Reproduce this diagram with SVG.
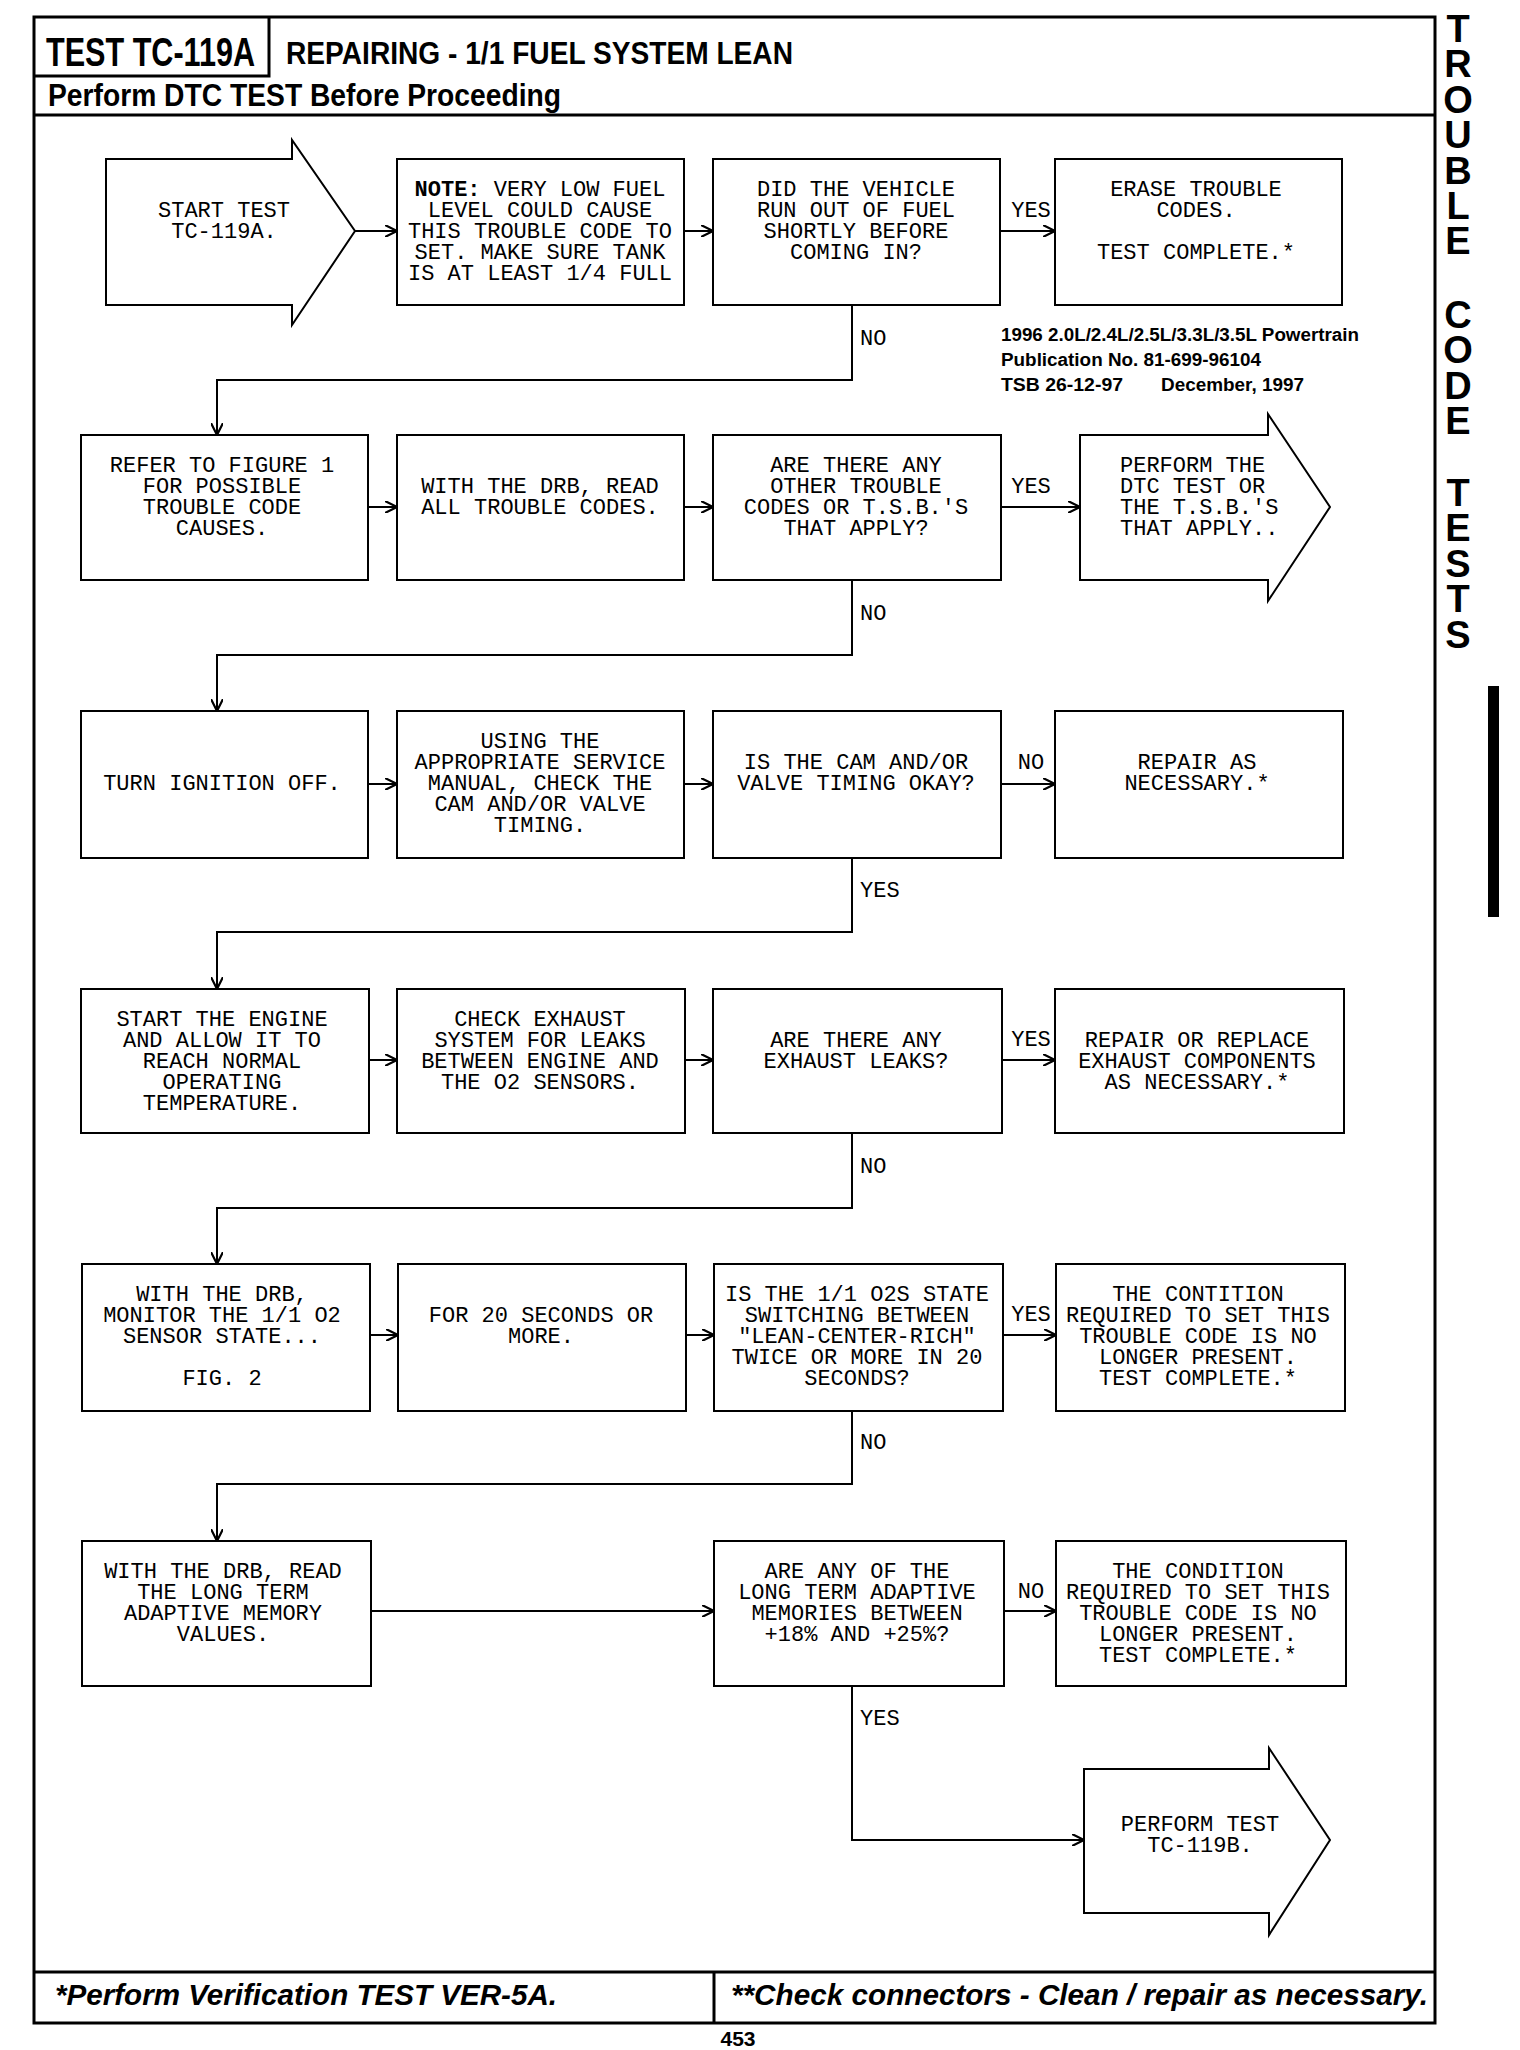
<svg xmlns="http://www.w3.org/2000/svg" width="1520" height="2050" viewBox="0 0 1520 2050">
<defs>
<style>
.frame{fill:none;stroke:#000;stroke-width:3}
.box{fill:#fff;stroke:#000;stroke-width:2}
.t{font-family:"Liberation Mono","DejaVu Sans Mono",monospace;font-size:22px;text-anchor:middle;fill:#000}
.tl{font-family:"Liberation Mono","DejaVu Sans Mono",monospace;font-size:22px;fill:#000}
.lab{font-family:"Liberation Mono","DejaVu Sans Mono",monospace;font-size:22px;fill:#000}
.conn{fill:none;stroke:#000;stroke-width:2;marker-end:url(#arr)}
.hd{font-family:"Liberation Sans",Arial,sans-serif;font-weight:bold;fill:#000}
.side{font-family:"Liberation Sans",Arial,sans-serif;font-weight:bold;font-size:38px;fill:#000;writing-mode:vertical-rl;text-orientation:upright;letter-spacing:-6.6px}
.info{font-family:"Liberation Sans",Arial,sans-serif;font-weight:bold;font-size:18px;fill:#000}
.ft{font-family:"Liberation Sans",Arial,sans-serif;font-weight:bold;font-style:italic;font-size:29px;fill:#000}
</style>
<marker id="arr" viewBox="0 0 10 10" refX="10" refY="5" markerWidth="12" markerHeight="12" markerUnits="userSpaceOnUse" orient="auto">
<path d="M0,0 L10,5 L0,10" fill="none" stroke="#000" stroke-width="1.8"/>
</marker>
</defs>
<rect width="1520" height="2050" fill="#fff"/>

<g id="frame">
<rect class="frame" x="34" y="17" width="1401" height="2006"/>
<polyline class="frame" points="269,17 269,76 34,76"/>
<line class="frame" x1="34" y1="115" x2="1435" y2="115"/>
<line class="frame" x1="34" y1="1972" x2="1435" y2="1972"/>
<line class="frame" x1="714" y1="1972" x2="714" y2="2023"/>
<text class="hd" x="46" y="66" font-size="40" textLength="209" lengthAdjust="spacingAndGlyphs">TEST TC-119A</text>
<text class="hd" x="286" y="64" font-size="31" textLength="507" lengthAdjust="spacingAndGlyphs">REPAIRING - 1/1 FUEL SYSTEM LEAN</text>
<text class="hd" x="48" y="106" font-size="31" textLength="513" lengthAdjust="spacingAndGlyphs">Perform DTC TEST Before Proceeding</text>
<text class="ft" x="55" y="2005" textLength="502" lengthAdjust="spacingAndGlyphs">*Perform Verification TEST VER-5A.</text>
<text class="ft" x="731" y="2005" textLength="697" lengthAdjust="spacingAndGlyphs">**Check connectors - Clean / repair as necessary.</text>
<text class="hd" x="738" y="2046" font-size="21" text-anchor="middle">453</text>
</g>

<g id="side-tab">
<text class="side" x="1458" y="8">TROUBLE</text>
<text class="side" x="1458" y="294">CODE</text>
<text class="side" x="1458" y="472">TESTS</text>
<rect x="1488" y="686" width="11" height="231" fill="#000"/>
</g>

<g id="pub-info">
<text class="info" x="1001" y="341" textLength="358" lengthAdjust="spacingAndGlyphs">1996 2.0L/2.4L/2.5L/3.3L/3.5L Powertrain</text>
<text class="info" x="1001" y="366" textLength="260" lengthAdjust="spacingAndGlyphs">Publication No. 81-699-96104</text>
<text class="info" x="1001" y="391" textLength="122" lengthAdjust="spacingAndGlyphs">TSB 26-12-97</text>
<text class="info" x="1161" y="391" textLength="143" lengthAdjust="spacingAndGlyphs">December, 1997</text>
</g>

<g id="connectors">
<line class="conn" x1="355" y1="231" x2="397" y2="231"/>
<line class="conn" x1="684" y1="231" x2="713" y2="231"/>
<line class="conn" x1="1000" y1="231" x2="1055" y2="231"/>
<polyline class="conn" points="852,305 852,380 217,380 217,435"/>
<line class="conn" x1="368" y1="507" x2="397" y2="507"/>
<line class="conn" x1="684" y1="507" x2="713" y2="507"/>
<line class="conn" x1="1001" y1="507" x2="1080" y2="507"/>
<polyline class="conn" points="852,580 852,655 217,655 217,711"/>
<line class="conn" x1="368" y1="784" x2="397" y2="784"/>
<line class="conn" x1="684" y1="784" x2="713" y2="784"/>
<line class="conn" x1="1001" y1="784" x2="1055" y2="784"/>
<polyline class="conn" points="852,858 852,932 217,932 217,989"/>
<line class="conn" x1="368" y1="1060" x2="397" y2="1060"/>
<line class="conn" x1="684" y1="1060" x2="713" y2="1060"/>
<line class="conn" x1="1001" y1="1060" x2="1055" y2="1060"/>
<polyline class="conn" points="852,1133 852,1208 217,1208 217,1264"/>
<line class="conn" x1="369" y1="1335" x2="398" y2="1335"/>
<line class="conn" x1="685" y1="1335" x2="714" y2="1335"/>
<line class="conn" x1="1002" y1="1335" x2="1056" y2="1335"/>
<polyline class="conn" points="852,1411 852,1484 217,1484 217,1541"/>
<line class="conn" x1="370" y1="1611" x2="714" y2="1611"/>
<line class="conn" x1="1003" y1="1611" x2="1056" y2="1611"/>
<polyline class="conn" points="852,1686 852,1840 1084,1840"/>
<text class="lab" x="1031" y="217" text-anchor="middle">YES</text>
<text class="lab" x="860" y="345">NO</text>
<text class="lab" x="1031" y="493" text-anchor="middle">YES</text>
<text class="lab" x="860" y="620">NO</text>
<text class="lab" x="1031" y="769" text-anchor="middle">NO</text>
<text class="lab" x="860" y="897">YES</text>
<text class="lab" x="1031" y="1046" text-anchor="middle">YES</text>
<text class="lab" x="860" y="1173">NO</text>
<text class="lab" x="1031" y="1321" text-anchor="middle">YES</text>
<text class="lab" x="860" y="1449">NO</text>
<text class="lab" x="1031" y="1598" text-anchor="middle">NO</text>
<text class="lab" x="860" y="1725">YES</text>
</g>

<g id="n-start">
<path class="box" d="M106,159 H292 V140 L355,231 L292,325 V305 H106 Z"/>
<text class="t" x="224" y="217">START TEST</text>
<text class="t" x="224" y="238">TC-119A.</text>
</g>
<g id="n-note">
<rect class="box" x="397" y="159" width="287" height="146"/>
<text class="t" x="540" y="196"><tspan font-weight="bold">NOTE:</tspan> VERY LOW FUEL</text>
<text class="t" x="540" y="217">LEVEL COULD CAUSE</text>
<text class="t" x="540" y="238">THIS TROUBLE CODE TO</text>
<text class="t" x="540" y="259">SET. MAKE SURE TANK</text>
<text class="t" x="540" y="280">IS AT LEAST 1/4 FULL</text>
</g>
<g id="n-runout">
<rect class="box" x="713" y="159" width="287" height="146"/>
<text class="t" x="856" y="196">DID THE VEHICLE</text>
<text class="t" x="856" y="217">RUN OUT OF FUEL</text>
<text class="t" x="856" y="238">SHORTLY BEFORE</text>
<text class="t" x="856" y="259">COMING IN?</text>
</g>
<g id="n-erase">
<rect class="box" x="1055" y="159" width="287" height="146"/>
<text class="t" x="1196" y="196">ERASE TROUBLE</text>
<text class="t" x="1196" y="217">CODES.</text>
<text class="t" x="1196" y="259">TEST COMPLETE.*</text>
</g>

<g id="n-refer">
<rect class="box" x="81" y="435" width="287" height="145"/>
<text class="t" x="222" y="472">REFER TO FIGURE 1</text>
<text class="t" x="222" y="493">FOR POSSIBLE</text>
<text class="t" x="222" y="514">TROUBLE CODE</text>
<text class="t" x="222" y="535">CAUSES.</text>
</g>
<g id="n-readcodes">
<rect class="box" x="397" y="435" width="287" height="145"/>
<text class="t" x="540" y="493">WITH THE DRB, READ</text>
<text class="t" x="540" y="514">ALL TROUBLE CODES.</text>
</g>
<g id="n-othercodes">
<rect class="box" x="713" y="435" width="288" height="145"/>
<text class="t" x="856" y="472">ARE THERE ANY</text>
<text class="t" x="856" y="493">OTHER TROUBLE</text>
<text class="t" x="856" y="514">CODES OR T.S.B.'S</text>
<text class="t" x="856" y="535">THAT APPLY?</text>
</g>
<g id="n-performdtc">
<path class="box" d="M1080,435 H1268 V414 L1330,507 L1268,601 V580 H1080 Z"/>
<text class="tl" x="1120" y="472">PERFORM THE</text>
<text class="tl" x="1120" y="493">DTC TEST OR</text>
<text class="tl" x="1120" y="514">THE T.S.B.'S</text>
<text class="tl" x="1120" y="535">THAT APPLY..</text>
</g>

<g id="n-ignition">
<rect class="box" x="81" y="711" width="287" height="147"/>
<text class="t" x="222" y="790">TURN IGNITION OFF.</text>
</g>
<g id="n-checktiming">
<rect class="box" x="397" y="711" width="287" height="147"/>
<text class="t" x="540" y="748">USING THE</text>
<text class="t" x="540" y="769">APPROPRIATE SERVICE</text>
<text class="t" x="540" y="790">MANUAL, CHECK THE</text>
<text class="t" x="540" y="811">CAM AND/OR VALVE</text>
<text class="t" x="540" y="832">TIMING.</text>
</g>
<g id="n-timingok">
<rect class="box" x="713" y="711" width="288" height="147"/>
<text class="t" x="856" y="769">IS THE CAM AND/OR</text>
<text class="t" x="856" y="790">VALVE TIMING OKAY?</text>
</g>
<g id="n-repairtiming">
<rect class="box" x="1055" y="711" width="288" height="147"/>
<text class="t" x="1197" y="769">REPAIR AS</text>
<text class="t" x="1197" y="790">NECESSARY.*</text>
</g>

<g id="n-startengine">
<rect class="box" x="81" y="989" width="288" height="144"/>
<text class="t" x="222" y="1026">START THE ENGINE</text>
<text class="t" x="222" y="1047">AND ALLOW IT TO</text>
<text class="t" x="222" y="1068">REACH NORMAL</text>
<text class="t" x="222" y="1089">OPERATING</text>
<text class="t" x="222" y="1110">TEMPERATURE.</text>
</g>
<g id="n-checkexhaust">
<rect class="box" x="397" y="989" width="288" height="144"/>
<text class="t" x="540" y="1026">CHECK EXHAUST</text>
<text class="t" x="540" y="1047">SYSTEM FOR LEAKS</text>
<text class="t" x="540" y="1068">BETWEEN ENGINE AND</text>
<text class="t" x="540" y="1089">THE O2 SENSORS.</text>
</g>
<g id="n-leaks">
<rect class="box" x="713" y="989" width="289" height="144"/>
<text class="t" x="856" y="1047">ARE THERE ANY</text>
<text class="t" x="856" y="1068">EXHAUST LEAKS?</text>
</g>
<g id="n-repairexhaust">
<rect class="box" x="1055" y="989" width="289" height="144"/>
<text class="t" x="1197" y="1047">REPAIR OR REPLACE</text>
<text class="t" x="1197" y="1068">EXHAUST COMPONENTS</text>
<text class="t" x="1197" y="1089">AS NECESSARY.*</text>
</g>

<g id="n-monitor">
<rect class="box" x="82" y="1264" width="288" height="147"/>
<text class="t" x="222" y="1301">WITH THE DRB,</text>
<text class="t" x="222" y="1322">MONITOR THE 1/1 O2</text>
<text class="t" x="222" y="1343">SENSOR STATE...</text>
<text class="t" x="222" y="1385">FIG. 2</text>
</g>
<g id="n-20sec">
<rect class="box" x="398" y="1264" width="288" height="147"/>
<text class="t" x="541" y="1322">FOR 20 SECONDS OR</text>
<text class="t" x="541" y="1343">MORE.</text>
</g>
<g id="n-switching">
<rect class="box" x="714" y="1264" width="289" height="147"/>
<text class="t" x="857" y="1301">IS THE 1/1 O2S STATE</text>
<text class="t" x="857" y="1322">SWITCHING BETWEEN</text>
<text class="t" x="857" y="1343">"LEAN-CENTER-RICH"</text>
<text class="t" x="857" y="1364">TWICE OR MORE IN 20</text>
<text class="t" x="857" y="1385">SECONDS?</text>
</g>
<g id="n-contition">
<rect class="box" x="1056" y="1264" width="289" height="147"/>
<text class="t" x="1198" y="1301">THE CONTITION</text>
<text class="t" x="1198" y="1322">REQUIRED TO SET THIS</text>
<text class="t" x="1198" y="1343">TROUBLE CODE IS NO</text>
<text class="t" x="1198" y="1364">LONGER PRESENT.</text>
<text class="t" x="1198" y="1385">TEST COMPLETE.*</text>
</g>

<g id="n-readlongterm">
<rect class="box" x="82" y="1541" width="289" height="145"/>
<text class="t" x="223" y="1578">WITH THE DRB, READ</text>
<text class="t" x="223" y="1599">THE LONG TERM</text>
<text class="t" x="223" y="1620">ADAPTIVE MEMORY</text>
<text class="t" x="223" y="1641">VALUES.</text>
</g>
<g id="n-adaptive">
<rect class="box" x="714" y="1541" width="290" height="145"/>
<text class="t" x="857" y="1578">ARE ANY OF THE</text>
<text class="t" x="857" y="1599">LONG TERM ADAPTIVE</text>
<text class="t" x="857" y="1620">MEMORIES BETWEEN</text>
<text class="t" x="857" y="1641">+18% AND +25%?</text>
</g>
<g id="n-condition">
<rect class="box" x="1056" y="1541" width="290" height="145"/>
<text class="t" x="1198" y="1578">THE CONDITION</text>
<text class="t" x="1198" y="1599">REQUIRED TO SET THIS</text>
<text class="t" x="1198" y="1620">TROUBLE CODE IS NO</text>
<text class="t" x="1198" y="1641">LONGER PRESENT.</text>
<text class="t" x="1198" y="1662">TEST COMPLETE.*</text>
</g>

<g id="n-tc119b">
<path class="box" d="M1084,1769 H1269 V1748 L1330,1840 L1269,1935 V1913 H1084 Z"/>
<text class="t" x="1200" y="1831">PERFORM TEST</text>
<text class="t" x="1200" y="1852">TC-119B.</text>
</g>
</svg>
